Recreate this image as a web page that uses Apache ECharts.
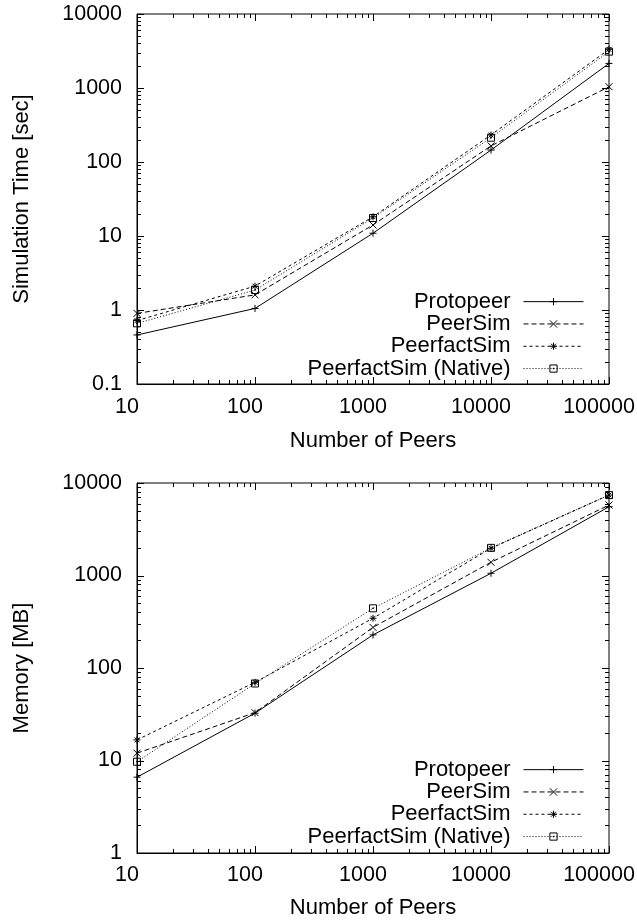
<!DOCTYPE html>
<html>
<head>
<meta charset="utf-8">
<script src="https://cdn.jsdelivr.net/npm/echarts@6/dist/echarts.min.js"></script>
<style>
html, body { margin: 0; padding: 0; background: #fff; }
#chart { width: 637px; height: 920px; }
</style>
</head>
<body>
<div id="chart"></div>
<script>
// x values (number of peers)
var peers = [10, 100, 1000, 10000, 100000];

// simulation time [sec]
var timeProtopeer   = [0.46, 1.05, 10.9, 145, 2150];
var timePeerSim     = [0.90, 1.6, 14.1, 165, 1040];
var timePeerfact    = [0.72, 2.1, 18.2, 232, 3330];
var timeNative      = [0.66, 1.86, 17.5, 213, 3100];

// memory [MB]
var memProtopeer    = [6.6, 32.5, 228, 1057, 5540];
var memPeerSim      = [12.0, 32.9, 275, 1390, 5780];
var memPeerfact     = [16.7, 70, 345, 1970, 7410];
var memNative       = [9.7, 68, 442, 1990, 7400];

// tick labels
var peerTicks = [10, 100, 1000, 10000, 100000];
var timeTicks = [0.1, 1, 10, 100, 1000, 10000];
var memTicks  = [1, 10, 100, 1000, 10000];

var names = ['Protopeer', 'PeerSim', 'PeerfactSim', 'PeerfactSim (Native)'];
var FONT = '"Liberation Sans", Arial, Helvetica, sans-serif';

var symPlus   = 'path://M0,5L10,5M5,0L5,10';
var symCross  = 'path://M0,0L10,10M10,0L0,10';
var symStar   = 'path://M0,5L10,5M5,0L5,10M1.5,1.5L8.5,8.5M8.5,1.5L1.5,8.5';
var symSquare = 'path://M0,0L10,0L10,10L0,10ZM4.5,4.5L5.5,4.5L5.5,5.5L4.5,5.5Z';
var styles = [
    {symbol: symPlus,   dash: 'solid'},
    {symbol: symCross,  dash: [5, 3]},
    {symbol: symStar,   dash: [3, 3]},
    {symbol: symSquare, dash: [1, 2]}
];

function tickLabel(ticks){
    return function(v){
        for (var i = 0; i < ticks.length; i++) {
            if (Math.abs(Math.log10(v / ticks[i])) < 0.01) return String(ticks[i]);
        }
        return '';
    };
}

// log ticks (major + minor 2..9) between lo and hi, [value, length]
function logTicks(lo, hi){
    var out = [];
    var e0 = Math.round(Math.log10(lo)), e1 = Math.round(Math.log10(hi));
    for (var e = e0; e <= e1; e++) {
        var base = Math.pow(10, e);
        out.push([base, 7]);
        if (e < e1) for (var k = 2; k <= 9; k++) out.push([k * base, 4]);
    }
    return out;
}

function tickLine(x1, y1, x2, y2){
    return {type: 'line', shape: {x1: x1, y1: y1, x2: x2, y2: y2}, style: {stroke: '#000', lineWidth: 1}, z2: 10};
}

// ticks on bottom and top border: [x, yMin, len, yMax]
function xTickSeries(idx, yMin, yMax){
    return {
        type: 'custom', xAxisIndex: idx, yAxisIndex: idx, silent: true, z: 5, clip: false,
        data: logTicks(10, 100000).map(function(t){ return [t[0], yMin, t[1], yMax]; }),
        renderItem: function(params, api){
            var b = api.coord([api.value(0), api.value(1)]);
            var t = api.coord([api.value(0), api.value(3)]);
            var len = api.value(2);
            var x = Math.round(b[0]) + 0.5;
            return {type: 'group', children: [
                tickLine(x, b[1], x, b[1] - len),
                tickLine(x, t[1], x, t[1] + len)
            ]};
        }
    };
}

// ticks on left and right border: [xMin, y, len, xMax]
function yTickSeries(idx, lo, hi){
    return {
        type: 'custom', xAxisIndex: idx, yAxisIndex: idx, silent: true, z: 5, clip: false,
        data: logTicks(lo, hi).map(function(t){ return [10, t[0], t[1], 100000]; }),
        renderItem: function(params, api){
            var l = api.coord([api.value(0), api.value(1)]);
            var r = api.coord([api.value(3), api.value(1)]);
            var len = api.value(2);
            var y = Math.round(l[1]) + 0.5;
            return {type: 'group', children: [
                tickLine(l[0], y, l[0] + len, y),
                tickLine(r[0], y, r[0] - len, y)
            ]};
        }
    };
}

function lineSeries(idx, lists){
    return lists.map(function(vals, i){
        return {
            name: names[i],
            type: 'line',
            xAxisIndex: idx, yAxisIndex: idx,
            data: peers.map(function(p, j){ return [p, vals[j]]; }),
            symbol: styles[i].symbol,
            symbolSize: 7,
            showAllSymbol: true,
            clip: false,
            z: 3,
            lineStyle: {color: '#000', width: 1, type: styles[i].dash},
            itemStyle: {color: 'rgba(0,0,0,0)', borderColor: '#000', borderWidth: 1},
            emphasis: {disabled: true}
        };
    });
}

function xAxisOpt(idx, nameGap, margin){
    return {
        type: 'log', logBase: 10, gridIndex: idx, min: 10, max: 100000,
        name: 'Number of Peers', nameLocation: 'middle', nameGap: nameGap,
        nameTextStyle: {color: '#000', fontSize: 22, fontFamily: FONT},
        axisLine: {show: true, lineStyle: {color: '#000', width: 1}},
        axisTick: {show: false},
        splitLine: {show: false},
        axisLabel: {color: '#000', fontSize: 21.5, fontFamily: FONT, margin: margin,
                    padding: [0, 20, 0, 0], formatter: tickLabel(peerTicks), showMinLabel: true, showMaxLabel: true}
    };
}

function yAxisOpt(idx, name, lo, hi, ticks){
    return {
        type: 'log', logBase: 10, gridIndex: idx, min: lo, max: hi,
        name: name, nameLocation: 'middle', nameRotate: 90, nameGap: 104,
        nameTextStyle: {color: '#000', fontSize: 22, fontFamily: FONT},
        axisLine: {show: true, lineStyle: {color: '#000', width: 1}},
        axisTick: {show: false},
        splitLine: {show: false},
        axisLabel: {color: '#000', fontSize: 21.5, fontFamily: FONT, margin: 15,
                    formatter: tickLabel(ticks), showMinLabel: true, showMaxLabel: true}
    };
}

function legendOpt(top){
    return {
        data: names,
        orient: 'vertical',
        align: 'right',
        right: 48,
        top: top,
        itemWidth: 60,
        itemHeight: 9,
        itemGap: 0,
        selectedMode: false,
        lineStyle: {width: 1},
        itemStyle: {borderWidth: 1},
        textStyle: {color: '#000', fontSize: 22, fontFamily: FONT, lineHeight: 22.3, padding: [0, 8, 0, 0]}
    };
}

var chart = echarts.init(document.getElementById('chart'), null, {renderer: 'canvas'});
chart.setOption({
    animation: false,
    backgroundColor: '#fff',
    grid: [
        {left: 137, top: 14, width: 472, height: 370, show: true, borderColor: '#000', borderWidth: 1,
         backgroundColor: 'transparent', containLabel: false, outerBoundsMode: 'none'},
        {left: 137, top: 483, width: 472, height: 370, show: true, borderColor: '#000', borderWidth: 1,
         backgroundColor: 'transparent', containLabel: false, outerBoundsMode: 'none'}
    ],
    xAxis: [xAxisOpt(0, 46, 12), xAxisOpt(1, 44, 11)],
    yAxis: [
        yAxisOpt(0, 'Simulation Time [sec]', 0.1, 10000, timeTicks),
        yAxisOpt(1, 'Memory [MB]', 1, 10000, memTicks)
    ],
    legend: [legendOpt(285.5), legendOpt(753.5)],
    series: []
        .concat(lineSeries(0, [timeProtopeer, timePeerSim, timePeerfact, timeNative]))
        .concat(lineSeries(1, [memProtopeer, memPeerSim, memPeerfact, memNative]))
        .concat([xTickSeries(0, 0.1, 10000), yTickSeries(0, 0.1, 10000), xTickSeries(1, 1, 10000), yTickSeries(1, 1, 10000)])
});
</script>
</body>
</html>
